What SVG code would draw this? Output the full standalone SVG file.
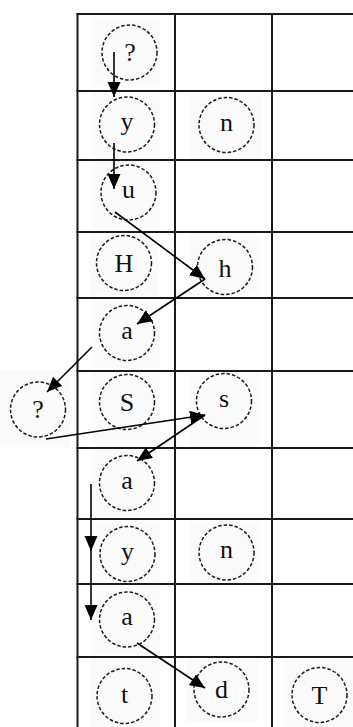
<svg xmlns="http://www.w3.org/2000/svg" width="353" height="727" viewBox="0 0 353 727">
<style>
.bg{fill:#fbfbfb}
.grid line{stroke:#1a1a1a;stroke-width:2}
.node circle{fill:none;stroke:#1a1a1a;stroke-width:1.5;stroke-dasharray:3.5 2}
.node text{font-family:"Liberation Serif","Times New Roman",serif;font-size:26px;fill:#111;text-anchor:middle}
.edges line{stroke:#000;stroke-width:1.6;marker-end:url(#ah)}
</style>
<defs>
<marker id="ah" markerUnits="userSpaceOnUse" markerWidth="16" markerHeight="14" refX="15" refY="6.5" orient="auto">
<path d="M0,0 L15,6.5 L0,13 Z" fill="#000"/>
</marker>
</defs>
<rect width="353" height="727" fill="#fff"/>
<g id="backgrounds">
<rect class="bg" x="92" y="17" width="68" height="70"/>
<rect class="bg" x="92" y="93" width="68" height="64"/>
<rect class="bg" x="190" y="93" width="72" height="64"/>
<rect class="bg" x="92" y="162" width="68" height="66"/>
<rect class="bg" x="90" y="235" width="68" height="60"/>
<rect class="bg" x="190" y="235" width="70" height="60"/>
<rect class="bg" x="92" y="300" width="68" height="68"/>
<rect class="bg" x="0" y="370" width="70" height="77"/>
<rect class="bg" x="92" y="373" width="68" height="72"/>
<rect class="bg" x="190" y="373" width="70" height="72"/>
<rect class="bg" x="92" y="450" width="68" height="67"/>
<rect class="bg" x="92" y="521" width="68" height="61"/>
<rect class="bg" x="190" y="521" width="70" height="61"/>
<rect class="bg" x="92" y="586" width="68" height="68"/>
<rect class="bg" x="90" y="660" width="70" height="67"/>
<rect class="bg" x="186" y="660" width="72" height="62"/>
<rect class="bg" x="284" y="660" width="69" height="67"/>
</g>
<g class="grid" id="grid">
<line x1="77.5" y1="13" x2="77.5" y2="727"/>
<line x1="175" y1="13" x2="175" y2="727"/>
<line x1="272" y1="13" x2="272" y2="727"/>
<line x1="76.5" y1="14" x2="353" y2="14"/>
<line x1="76.5" y1="91" x2="353" y2="91"/>
<line x1="76.5" y1="160" x2="353" y2="160"/>
<line x1="76.5" y1="232" x2="353" y2="232"/>
<line x1="76.5" y1="298" x2="353" y2="298"/>
<line x1="76.5" y1="371" x2="353" y2="371"/>
<line x1="76.5" y1="448" x2="353" y2="448"/>
<line x1="76.5" y1="519" x2="353" y2="519"/>
<line x1="76.5" y1="584" x2="353" y2="584"/>
<line x1="76.5" y1="657" x2="353" y2="657"/>
</g>
<g id="n-q1" class="node"><circle cx="129.5" cy="52.5" r="27.5"/><text x="130" y="61">?</text></g>
<g id="n-y1" class="node"><circle cx="127" cy="124.5" r="27.5"/><text x="127" y="130">y</text></g>
<g id="n-n1" class="node"><circle cx="226.5" cy="125" r="27.5"/><text x="226.5" y="130.5">n</text></g>
<g id="n-u" class="node"><circle cx="128.5" cy="192.5" r="27.5"/><text x="128.5" y="198">u</text></g>
<g id="n-H" class="node"><circle cx="124" cy="263" r="27.5"/><text x="124" y="271.5">H</text></g>
<g id="n-h" class="node"><circle cx="225" cy="267" r="27.5"/><text x="225" y="276.5">h</text></g>
<g id="n-a1" class="node"><circle cx="127" cy="333" r="27.5"/><text x="127" y="338.5">a</text></g>
<g id="n-q2" class="node"><circle cx="38" cy="409.5" r="27.5"/><text x="38" y="418">?</text></g>
<g id="n-S" class="node"><circle cx="127" cy="402" r="27.5"/><text x="127" y="410.5">S</text></g>
<g id="n-s" class="node"><circle cx="224" cy="401" r="27.5"/><text x="224" y="406.5">s</text></g>
<g id="n-a2" class="node"><circle cx="127" cy="483" r="27.5"/><text x="127" y="488.5">a</text></g>
<g id="n-y2" class="node"><circle cx="127.5" cy="554" r="27.5"/><text x="127.5" y="559.5">y</text></g>
<g id="n-n2" class="node"><circle cx="226.5" cy="552.5" r="27.5"/><text x="226.5" y="558">n</text></g>
<g id="n-a3" class="node"><circle cx="127" cy="619.5" r="27.5"/><text x="127" y="625">a</text></g>
<g id="n-t" class="node"><circle cx="124.5" cy="696" r="27.5"/><text x="124.5" y="703">t</text></g>
<g id="n-d" class="node"><circle cx="221.5" cy="689.5" r="27.5"/><text x="221.5" y="698">d</text></g>
<g id="n-T" class="node"><circle cx="319.5" cy="695" r="27.5"/><text x="319.5" y="703.5">T</text></g>
<g id="connectors" class="edges">
<line x1="114" y1="52" x2="114" y2="97"/>
<line x1="114" y1="143" x2="114" y2="189"/>
<line x1="115" y1="212" x2="205" y2="279"/>
<line x1="205" y1="279" x2="137" y2="324"/>
<line x1="92" y1="347" x2="47" y2="392"/>
<line x1="46" y1="439" x2="205" y2="415"/>
<line x1="205" y1="415" x2="137" y2="461"/>
<line x1="91" y1="484" x2="91" y2="551"/>
<line x1="91" y1="551" x2="91" y2="620"/>
<line x1="137" y1="643" x2="205" y2="688"/>
</g>
</svg>
